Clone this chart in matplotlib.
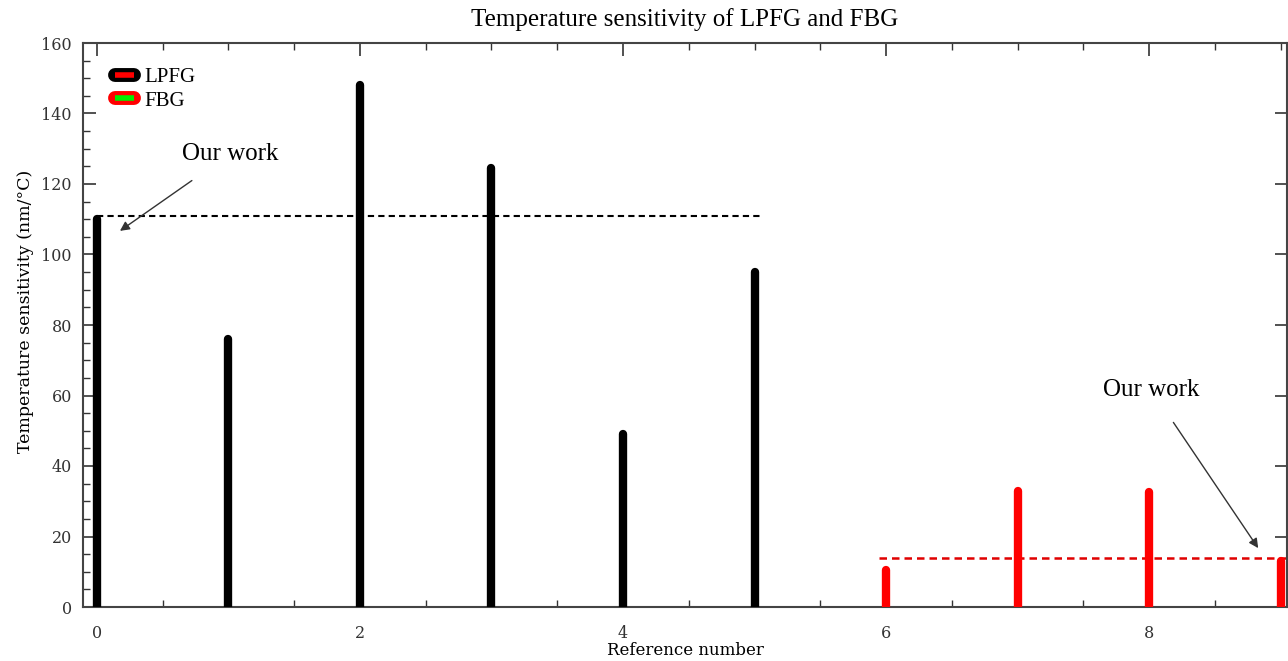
import matplotlib
matplotlib.use("Agg")
import matplotlib.pyplot as plt
from matplotlib.lines import Line2D
from matplotlib.ticker import MultipleLocator

# Data
lpfg_ref = [0, 1, 2, 3, 4, 5]
lpfg_vals = [110, 76, 148, 124.5, 49, 95]
fbg_ref = [6, 7, 8, 9]
fbg_vals = [10.5, 33, 32.5, 13]
our_lpfg = 111
our_fbg = 13.9

serif = ["Liberation Serif", "DejaVu Serif"]
wserif = ["DejaVu Serif"]

fig = plt.figure(figsize=(12.88, 6.61), dpi=100)
ax = fig.add_axes([83/1288, 54/661, (1287-83)/1288, 564/661])

ax.vlines(lpfg_ref, 0, lpfg_vals, colors="black", linewidth=6, capstyle="round", zorder=3)
ax.vlines(fbg_ref, 0, fbg_vals, colors="#ff0000", linewidth=6, capstyle="round", zorder=3)

ax.hlines(our_lpfg, 0, 5.05, colors="black", linestyles=(0, (3, 2)), linewidth=1.5, zorder=2)
ax.hlines(our_fbg, 5.95, 9.05, colors="#e00000", linestyles=(0, (3, 2)), linewidth=1.8, zorder=2)

ax.set_xlim(-0.106, 9.049)
ax.set_ylim(0, 160)

ax.xaxis.set_major_locator(MultipleLocator(2))
ax.xaxis.set_minor_locator(MultipleLocator(0.5))
ax.yaxis.set_major_locator(MultipleLocator(20))
ax.yaxis.set_minor_locator(MultipleLocator(5))
ax.tick_params(which="both", direction="in", top=True, right=True, colors="#333333",
               labelcolor="#333333", labelsize=11.5)
ax.tick_params(which="major", length=9, width=1.2)
ax.tick_params(which="minor", length=5, width=1.0)
ax.tick_params(axis="y", which="minor", right=False)
ax.tick_params(axis="x", pad=13)
ax.tick_params(axis="y", pad=8)
for s in ax.spines.values():
    s.set_color("#444444")
    s.set_linewidth(1.5)
for lab in ax.get_xticklabels() + ax.get_yticklabels():
    lab.set_family(wserif)

ax.set_title("Temperature sensitivity of LPFG and FBG", family=serif, fontsize=18, pad=12)
ax.set_xlabel("Reference number", family=wserif, fontsize=12, labelpad=0)
ax.set_ylabel("Temperature sensitivity (nm/\u00b0C)", family=wserif, fontsize=12.5)
ax.yaxis.set_label_coords(-0.041, 0.525)

ax.annotate("Our work", xy=(0.175, 106.7), xytext=(1.01, 128.5), family=serif, fontsize=18,
            ha="center", va="center",
            arrowprops=dict(arrowstyle="-|>", color="#333333", lw=1, shrinkA=16, shrinkB=0,
                            mutation_scale=14))
ax.annotate("Our work", xy=(8.83, 16.7), xytext=(8.02, 61.5), family=serif, fontsize=18,
            ha="center", va="center",
            arrowprops=dict(arrowstyle="-|>", color="#333333", lw=1, shrinkA=16, shrinkB=0,
                            mutation_scale=14))

h1 = (Line2D([], [], color="black", lw=10, solid_capstyle="round"),
      Line2D([], [], color="#ff0000", lw=4, solid_capstyle="butt"))
h2 = (Line2D([], [], color="#ff0000", lw=10, solid_capstyle="round"),
      Line2D([], [], color="#00ee00", lw=4, solid_capstyle="butt"))
leg = ax.legend([h1, h2], ["LPFG", "FBG"], loc="upper left", frameon=False,
                prop={"family": serif, "size": 15}, handlelength=0.9,
                bbox_to_anchor=(0.011, 0.99), labelspacing=0.2, handletextpad=0.5)

fig.savefig("out.png", dpi=100)
